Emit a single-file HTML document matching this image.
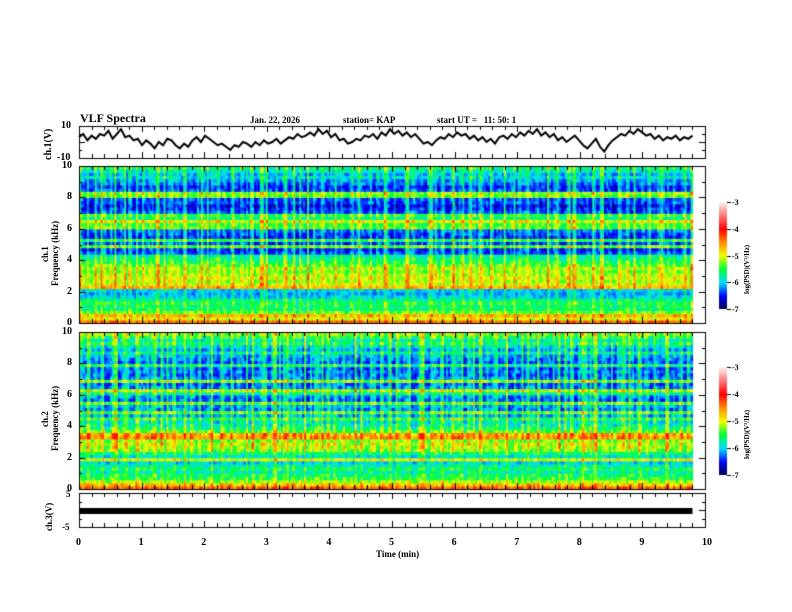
<!DOCTYPE html>
<html><head><meta charset="utf-8"><style>
html,body{margin:0;padding:0;background:#fff}
#wrap{position:relative;width:792px;height:612px;overflow:hidden;font-family:"Liberation Serif",serif;font-weight:bold;color:#000}
.t{position:absolute;font-size:10px;white-space:nowrap;line-height:10px}
canvas{position:absolute;left:0;top:0}
</style></head><body>
<div id="wrap">
<canvas id="cv" width="792" height="612"></canvas>
<div class="t" style="left:80px;top:113px;font-size:12px">VLF Spectra</div>
<div class="t" style="left:250px;top:115px;font-size:9px">Jan. 22, 2026</div>
<div class="t" style="left:343px;top:115px;font-size:9px">station= KAP</div>
<div class="t" style="left:437px;top:115px;font-size:9px">start UT =&nbsp;&nbsp; 11: 50: 1</div>
<div class="t" style="left:376px;top:549px;font-size:9px">Time (min)</div>
<div id="labels"></div>
</div>
<script>
const xTicks=[0,1,2,3,4,5,6,7,8,9,10];
const ch1Ticks=["10","-10"];
const ch3Ticks=["5","-5"];
const freqTicks=[0,2,4,6,8,10];
const cbarTicks=[-3,-4,-5,-6,-7];
const ch1Values=[3,5,1,4,2,5,4,7,2,5,8,3,4,1,2,-2,1,-1,-4,0,-2,2,1,-2,-4,-1,-3,1,3,0,4,2,0,-2,-1,-3,-5,-2,-3,0,-1,-3,0,-2,1,-1,0,2,-1,1,3,2,5,3,4,6,4,8,5,7,3,5,1,2,-1,0,2,1,4,3,5,2,6,4,8,5,7,4,6,3,5,2,-1,0,-2,1,3,2,5,3,6,4,5,2,4,1,3,0,2,-1,3,4,2,5,3,6,4,7,5,8,4,6,3,5,1,3,0,2,4,1,-2,-4,-1,2,-3,-6,-2,1,3,5,4,7,5,8,6,4,5,2,4,1,3,2,4,1,3,2,4];
const rowLevels1=[-4.5,-5.1,-4.8,-5.4,-5.7,-5.7,-5.6,-5.8,-6.1,-6.2,-6.1,-4.8,-5.2,-5.3,-5.2,-5.3,-5.4,-5.3,-5.5,-5.7,-5.8,-5.9,-6.5,-6.6,-5.5,-6.5,-5.7,-6.6,-6.5,-6.4,-5.5,-5.6,-5.2,-5.8,-5.6,-6.5,-6.6,-6.7,-6.5,-6.5,-5.5,-5.4,-6.5,-6.6,-6.4,-6.3,-6.1,-6.2,-6.0,-5.8];
const rowLevels2=[-4.6,-5.0,-5.4,-5.7,-5.8,-6.0,-5.8,-6.0,-6.2,-5.3,-6.1,-5.8,-5.6,-5.5,-5.4,-5.6,-4.9,-5.0,-5.7,-5.9,-6.1,-6.2,-5.8,-6.4,-5.7,-6.5,-6.4,-5.7,-6.6,-6.5,-6.1,-5.5,-6.5,-6.6,-5.6,-6.5,-6.6,-6.5,-6.6,-6.0,-6.6,-6.5,-6.4,-6.1,-6.4,-6.2,-5.9,-6.1,-5.8,-5.6];
const colBoost1=[1.4,0.3,0.8,0.1,1.2,0.2,0.6,0,0.9,1.5,0.2,0.4,0,0.7,0.1,0.3,1.1,0,0.5,0.2,1.6,0.3,0,0.8,0.2,0.6,0,1.0,0.3,0.1,0.7,1.3,0.2,0,0.5,0.9,0.1,0.4,0,1.2,0.3,0.6,0.1,0,0.8,0.2,1.4,0.4,0,0.3,0.7,0.1,1.0,0.2,0.5,0,0.9,0.3,1.5,0.1,0.4,0.2,0.8,0,0.6,1.1,0.2,0.3,0,0.7,0.1,1.3,0.4,0.2,0.9,0,0.5,0.3,1.0,0.1,0.6,0.2,0,1.4,0.3,0.7,0.1,0.4,0,1.2,0.5,0.2,0.8,0.1,0.3,1.6,0,0.6,0.2,0.9,0.4,0.1,1.1,0.3,0,0.7,0.2,0.5,1.3,0.1,0.4,0,0.8,0.3,1.0,0.2,0.6,0,0.4,1.5,0.1,0.7,0.3,0,0.9,0.2,1.2,0.5,0.1,0.6,0,0.8,0.3,1.4,0.2,0.4,0,1.0,0.3,0.7,0.1,1.3,0.2,0.5,0,0.9,0.4,0.6,1.1,0.2,0.3,0.8,0.1,0.5,1.2,0.2];
const colBoost2=[1.2,0.5,1.6,0.2,0.9,0.3,1.4,0.1,0.6,1.7,0.2,0.8,1.3,0.4,0.1,1.5,0.3,0.7,0.2,1.1,0.4,1.6,0.1,0.6,1.2,0.3,0.5,1.4,0.2,0.8,0.1,1.0,0.4,0.6,1.7,0.2,0.3,0.9,0.5,1.3,0.1,0.7,0.4,1.5,0.2,0.6,0.3,1.1,0.8,0.2,1.6,0.4,0.1,0.9,0.5,1.2,0.3,0.7,1.8,0.2,0.4,1.0,0.6,0.1,1.4,0.3,0.8,0.2,1.1,0.5,0.4,1.7,0.1,0.6,0.3,1.2,0.7,0.2,1.0,0.4,1.5,0.1,0.8,0.3,0.6,1.3,0.2,0.5,1.6,0.4,0.1,0.9,0.7,1.1,0.3,0.2,1.4,0.5,0.8,0.1,1.2,0.6,0.3,1.7,0.2,0.9,0.4,1.0,0.1,0.5,1.5,0.3,0.7,0.2,1.3,0.6,0.4,0.8,1.6,0.1,0.5,0.3,1.1,0.7,0.2,1.4,0.4,0.9,0.1,0.6,1.2,0.3,0.5,1.8,0.2,0.8,0.4,1.0,0.1,0.7,1.3,0.3,0.6,0.2,1.5,0.4,0.9,0.1,1.1,0.5,0.3,1.6,0.2,0.7,0.4,1.2,0.1,0.8];
const tMax=9.8;

const cv=document.getElementById('cv');const g=cv.getContext('2d');
const X0=79,X1=705;
const xS=t=>X0+(X1-X0)*t/10;
const P1={top:126,bot:158},S1={top:166,bot:323},S2={top:332,bot:489},P3={top:493,bot:527};
const labels=document.getElementById('labels');
function lab(txt,x,y,name,size,rot){const d=document.createElement('div');d.className='t';d.textContent=txt;d.style.left=x+'px';d.style.top=y+'px';if(size)d.style.fontSize=size+'px';if(rot){d.style.transform='rotate(-90deg)';d.style.transformOrigin='0 0';}


labels.appendChild(d);return d;}
function cmap(v){const s=[[-7,[0,0,70]],[-6.5,[0,0,255]],[-6,[0,220,255]],[-5.5,[0,255,60]],[-5,[240,255,0]],[-4.5,[255,140,0]],[-4,[255,0,0]],[-3,[255,240,240]]];
if(v<=-7)return s[0][1];if(v>=-3)return s[7][1];for(let i=0;i<7;i++){if(v<=s[i+1][0]){const f=(v-s[i][0])/(s[i+1][0]-s[i][0]);return s[i][1].map((a,k)=>Math.round(a+(s[i+1][1][k]-a)*f));}}}
function spectro(P,rows,cols){const nr=rows.length,nc=cols.length;const h=(P.bot-P.top)/nr;const nsub=2*nc;const w=(xS(tMax)-X0)/nsub;
for(let r=0;r<nr;r++)for(let c=0;c<nsub;c++){const cb=cols[c%2?(c*37)%nc:(c>>1)];const fine=cols[(c*7+r*13)%nc]*0.3-0.15;const v=rows[r]+cb*(r<12?0.3:0.55)+fine;const col=cmap(v);g.fillStyle='rgb('+col.join(',')+')';
g.fillRect(X0+c*w,P.bot-(r+1)*h,w+0.6,h+0.6);}}
spectro(S1,rowLevels1,colBoost1);spectro(S2,rowLevels2,colBoost2);
g.strokeStyle='#000';g.lineWidth=2;g.beginPath();
ch1Values.forEach((v,i)=>{const x=xS(i*tMax/(ch1Values.length-1));const y=P1.bot-(v+10)/20*(P1.bot-P1.top);i?g.lineTo(x,y):g.moveTo(x,y);});g.stroke();
g.fillStyle='#000';g.fillRect(X0,508,xS(tMax)-X0,6);
g.lineWidth=1;
function frame(P,yTicksN){g.strokeStyle='#000';g.strokeRect(X0+0.5,P.top+0.5,X1-X0,P.bot-P.top);
for(let i=0;i<=50;i++){const x=Math.round(xS(i/5))+0.5;const L=i%5==0?6:4;g.beginPath();g.moveTo(x,P.top);g.lineTo(x,P.top+L);g.moveTo(x,P.bot);g.lineTo(x,P.bot-L);g.stroke();}
for(let i=0;i<=yTicksN;i++){const y=Math.round(P.top+(P.bot-P.top)*i/yTicksN)+0.5;const L=i%2==0?6:3;g.beginPath();g.moveTo(X0,y);g.lineTo(X0+L,y);g.moveTo(X1,y);g.lineTo(X1-L,y);g.stroke();}}
frame(P1,4);frame(S1,10);frame(S2,10);frame(P3,4);
function cbar(top,bot,id){const x=719,w=8;for(let y=top;y<bot;y++){const v=-7+4*(bot-y)/(bot-top);g.fillStyle='rgb('+cmap(v).join(',')+')';g.fillRect(x,y,w,1);}
g.strokeStyle='#000';cbarTicks.forEach(v=>{const y=Math.round(bot-(v+7)/4*(bot-top))+0.5;g.beginPath();g.moveTo(x+w,y);g.lineTo(x+w+4,y);g.stroke();lab(String(v),x+w+5,y-5,id+'-tick',8);});
lab('log(PSD)(V²/Hz)',742,(top+bot)/2+38,id+'-title',7,true);}
cbar(202,309,'colorbar-1');cbar(367,475,'colorbar-2');
xTicks.forEach(t=>lab(String(t),xS(t)-3,538,'x-tick-label',10));
lab(ch1Ticks[0],61,121,'ch1-y-tick',10);lab(ch1Ticks[1],57,153,'ch1-y-tick',10);
lab(ch3Ticks[0],66,489,'ch3-y-tick',9);lab(ch3Ticks[1],62,522,'ch3-y-tick',9);
[S1,S2].forEach((P,k)=>freqTicks.forEach(f=>lab(String(f),f==10?62:67,P.bot-(P.bot-P.top)*f/10-5,'ch'+(k+1)+'-freq-tick',10)));
lab('ch.1(V)',44,160,'ch1-y-title',10,true);
lab('ch.3(V)',44,531,'ch3-y-title',9,true);
lab('ch.1',40,262,'spectro1-y-title',9,true);lab('Frequency (kHz)',50,286,'spectro1-y-title',9,true);
lab('ch.2',40,427,'spectro2-y-title',9,true);lab('Frequency (kHz)',50,451,'spectro2-y-title',9,true);
</script>
</body></html>
